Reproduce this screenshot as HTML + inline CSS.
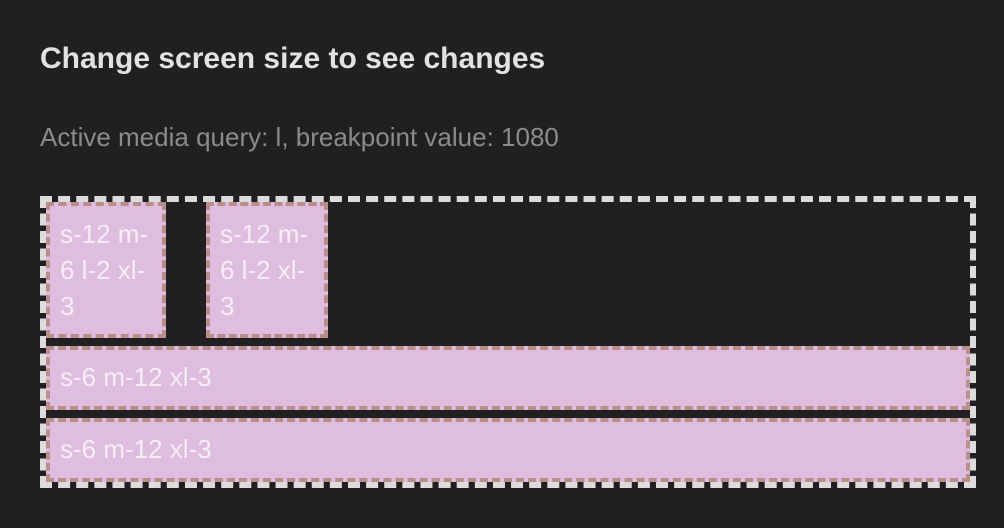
<!DOCTYPE html>
<html><head><meta charset="utf-8"><style>
html,body{margin:0;padding:0;width:1004px;height:528px;background:#221f22;overflow:hidden;font-family:"Liberation Sans",sans-serif}
.t{position:absolute;left:40px;top:42px;font-size:30px;font-weight:bold;color:#e2e2e2;white-space:nowrap;margin:0}
.s{position:absolute;left:40px;top:122px;font-size:26px;color:#8c8a8c;white-space:nowrap;margin:0}
.outer{position:absolute;left:40px;top:196px;width:924px;height:280px;border:6px dashed #dcdcdc}
.b{position:absolute;box-sizing:border-box;background:#dfbddf;border:4px dashed #b88e8a;color:#f6eef6;font-size:26px;line-height:36px;padding:10px 10px 0 10px}
</style></head><body>
<h1 class="t">Change screen size to see changes</h1>
<p class="s">Active media query: l, breakpoint value: 1080</p>
<div class="outer"></div>
<div class="b" style="left:46px;top:202px;width:120px;height:136px;padding-top:10px">s-12 m-6 l-2 xl-3</div>
<div class="b" style="left:206px;top:202px;width:122px;height:136px;padding-top:10px">s-12 m-6 l-2 xl-3</div>
<div class="b" style="left:46px;top:346px;width:924px;height:64px;padding-top:9px">s-6 m-12 xl-3</div>
<div class="b" style="left:46px;top:418px;width:924px;height:64px;padding-top:9px">s-6 m-12 xl-3</div>
</body></html>
